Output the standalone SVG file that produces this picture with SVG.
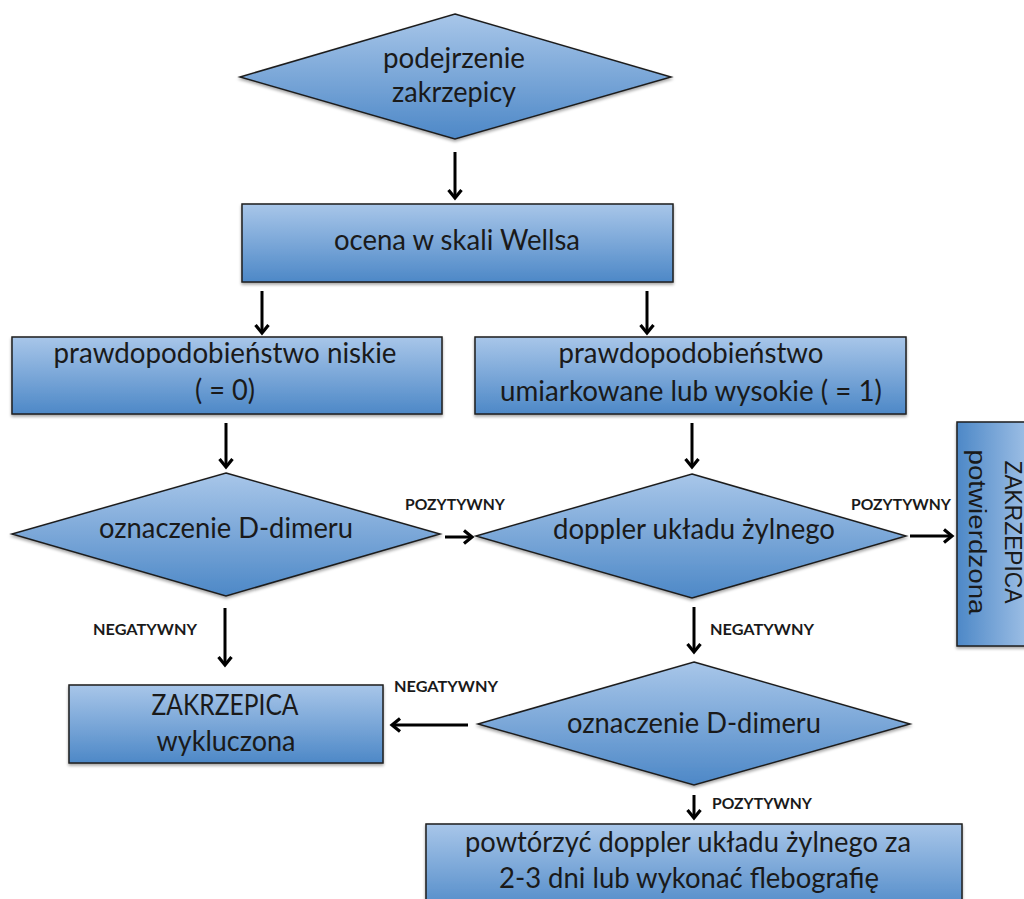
<svg xmlns="http://www.w3.org/2000/svg" width="1024" height="899" viewBox="0 0 1024 899">
<style>
.shape{fill:url(#g);stroke:#1e1e1e;stroke-width:1.5;filter:url(#sh)}
.t{font-family:Lato,"Open Sans",sans-serif;font-size:28px;fill:#1a1a1a;text-anchor:middle}
.v{font-family:"Liberation Sans",Arial,sans-serif;font-size:23px;fill:#1a1a1a;text-anchor:middle}
.l{font-family:Lato,"Liberation Sans",sans-serif;font-size:15px;font-weight:bold;fill:#1a1a1a;text-anchor:middle}
.a{stroke:#000;stroke-width:3;fill:none;marker-end:url(#ah)}
</style>
<defs>
<linearGradient id="g" x1="0" y1="0" x2="0" y2="1">
<stop offset="0" stop-color="#a8c6e9"/>
<stop offset="1" stop-color="#4d88c7"/>
</linearGradient>
<linearGradient id="gh" x1="1" y1="0" x2="0" y2="0">
<stop offset="0" stop-color="#a8c6e9"/>
<stop offset="1" stop-color="#4d88c7"/>
</linearGradient>
<filter id="sh" x="-10%" y="-10%" width="120%" height="130%">
<feDropShadow dx="0" dy="2" stdDeviation="1.5" flood-color="#000" flood-opacity="0.35"/>
</filter>
<marker id="ah" viewBox="0 0 16 16" refX="10" refY="8" markerWidth="16" markerHeight="16" markerUnits="userSpaceOnUse" orient="auto">
<path d="M2,1.5 L10,8 L2,14.5" fill="none" stroke="#000" stroke-width="3.2"/>
</marker>
</defs>
<rect width="1024" height="899" fill="#fff"/>

<g id="connectors">
<line class="a" x1="455" y1="152" x2="455" y2="198"/>
<line class="a" x1="262" y1="291" x2="262" y2="333"/>
<line class="a" x1="647" y1="291" x2="647" y2="333"/>
<line class="a" x1="226" y1="423" x2="226" y2="467"/>
<line class="a" x1="692" y1="423" x2="692" y2="467"/>
<line class="a" x1="445" y1="537" x2="472" y2="537"/>
<line class="a" x1="910" y1="536" x2="952" y2="536"/>
<line class="a" x1="225" y1="608" x2="225" y2="665"/>
<line class="a" x1="694" y1="607" x2="694" y2="652"/>
<line class="a" x1="468" y1="725" x2="392" y2="725"/>
<line class="a" x1="694" y1="795" x2="694" y2="818"/>
<text class="l" x="455" y="510" textLength="100" lengthAdjust="spacingAndGlyphs">POZYTYWNY</text>
<text class="l" x="901" y="510" textLength="100" lengthAdjust="spacingAndGlyphs">POZYTYWNY</text>
<text class="l" x="145" y="635" textLength="104" lengthAdjust="spacingAndGlyphs">NEGATYWNY</text>
<text class="l" x="446" y="692" textLength="104" lengthAdjust="spacingAndGlyphs">NEGATYWNY</text>
<text class="l" x="762" y="635" textLength="104" lengthAdjust="spacingAndGlyphs">NEGATYWNY</text>
<text class="l" x="762" y="809" textLength="100" lengthAdjust="spacingAndGlyphs">POZYTYWNY</text>
</g>

<g id="n1">
<polygon class="shape" points="455,14 671,77 455,139 240,77"/>
<text class="t" x="454" y="68" textLength="142" lengthAdjust="spacingAndGlyphs">podejrzenie</text>
<text class="t" x="454" y="102" textLength="124" lengthAdjust="spacingAndGlyphs">zakrzepicy</text>
</g>

<g id="n2">
<rect class="shape" x="242" y="204" width="431" height="78"/>
<text class="t" x="457" y="250" textLength="246" lengthAdjust="spacingAndGlyphs">ocena w skali Wellsa</text>
</g>

<g id="n3">
<rect class="shape" x="12" y="337" width="430" height="77"/>
<text class="t" x="225" y="363" textLength="343" lengthAdjust="spacingAndGlyphs">prawdopodobieństwo niskie</text>
<text class="t" x="225" y="400" textLength="60" lengthAdjust="spacingAndGlyphs">( = 0)</text>
</g>

<g id="n4">
<rect class="shape" x="475" y="337" width="431" height="77"/>
<text class="t" x="691" y="363" textLength="265" lengthAdjust="spacingAndGlyphs">prawdopodobieństwo</text>
<text class="t" x="691" y="401" textLength="382" lengthAdjust="spacingAndGlyphs">umiarkowane lub wysokie ( = 1)</text>
</g>

<g id="n5">
<polygon class="shape" points="226,473 440,534 226,596 12,534"/>
<text class="t" x="226" y="538" textLength="254" lengthAdjust="spacingAndGlyphs">oznaczenie D-dimeru</text>
</g>

<g id="n6">
<polygon class="shape" points="692,474 906,536 692,598 476,536"/>
<text class="t" x="694" y="539" textLength="282" lengthAdjust="spacingAndGlyphs">doppler układu żylnego</text>
</g>

<g id="n7">
<rect x="957" y="422" width="80" height="224" fill="url(#gh)" stroke="#1e1e1e" stroke-width="1.5" filter="url(#sh)"/>
<g transform="translate(993,532) rotate(90)">
<text class="v" x="0" y="-12" textLength="143" lengthAdjust="spacingAndGlyphs">ZAKRZEPICA</text>
<text class="v" x="0" y="24" textLength="165" lengthAdjust="spacingAndGlyphs">potwierdzona</text>
</g>
</g>

<g id="n8">
<rect class="shape" x="69" y="685" width="314" height="78"/>
<text class="t" x="225" y="715" textLength="147" lengthAdjust="spacingAndGlyphs">ZAKRZEPICA</text>
<text class="t" x="226" y="751" textLength="139" lengthAdjust="spacingAndGlyphs">wykluczona</text>
</g>

<g id="n9">
<polygon class="shape" points="694,662 910,724 694,785 478,724"/>
<text class="t" x="694" y="733" textLength="254" lengthAdjust="spacingAndGlyphs">oznaczenie D-dimeru</text>
</g>

<g id="n10">
<rect class="shape" x="426" y="824" width="536" height="90"/>
<text class="t" x="688" y="852" textLength="446" lengthAdjust="spacingAndGlyphs">powtórzyć doppler układu żylnego za</text>
<text class="t" x="689" y="888" textLength="380" lengthAdjust="spacingAndGlyphs">2-3 dni lub wykonać flebografię</text>
</g>
</svg>
